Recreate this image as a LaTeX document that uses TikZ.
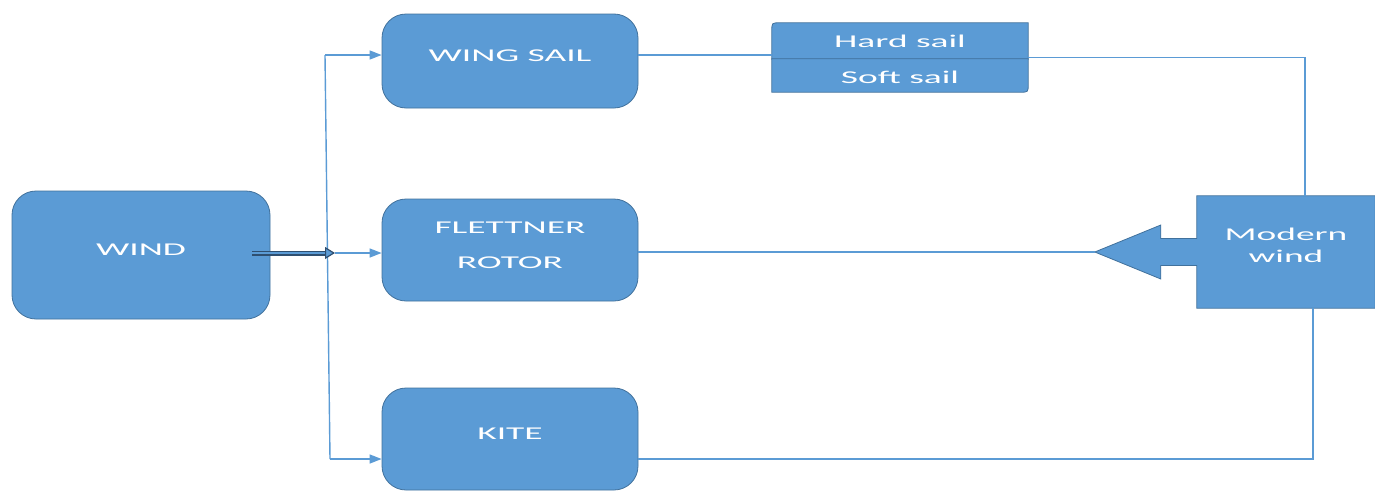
\documentclass[tikz,border=0pt]{standalone}
\usepackage{fontspec}
\newfontfamily\boxfont[FakeStretch=2.08]{Carlito}
\usetikzlibrary{arrows.meta,backgrounds,calc}
\definecolor{boxblue}{HTML}{5B9BD5}
\definecolor{edgeblue}{HTML}{41719C}
\definecolor{linkblue}{HTML}{5B9BD5}
\definecolor{navyline}{HTML}{2F4F70}
% place text so that its (last) baseline sits #1 below the node centre
\newcommand\onbase[2]{\raisebox{-#1}[0pt][0pt]{#2}}
% two centred lines: width, line distance, drop of last baseline, lines
\newcommand\twolines[5]{\raisebox{-#3}[0pt][0pt]{\parbox[b]{#1}{\centering\baselineskip=#2 #4\\#5}}}
\begin{document}
\begin{tikzpicture}[x=1pt,y=-1pt,
  every node/.style={font=\boxfont\fontsize{18}{22}\selectfont, text=white},
  block/.style={rectangle, rounded corners=24pt, fill=boxblue, draw=edgeblue,
    line width=0.8pt, inner sep=0pt},
  plain/.style={rectangle, inner sep=0pt},
  shapefill/.style={fill=boxblue, draw=edgeblue, line width=0.8pt},
  link/.style={draw=linkblue, line width=1.4pt},
  feed/.style={link, -{Triangle[length=12pt,width=9pt]}},
  windarrow/.style={draw=navyline, line width=1.2pt, double=boxblue,
    double distance=2.6pt, -{Triangle[length=10pt,width=12pt,fill=boxblue]}},
]
\useasboundingbox (0,0) rectangle (1375,490);

% main blocks
\node[block, minimum width=258pt, minimum height=128pt] (wind) at (141,255) {\onbase{0pt}{WIND}};
\node[block, minimum width=256pt, minimum height=94pt] (ws) at (510,61) {\onbase{0pt}{WING SAIL}};
\node[block, minimum width=256pt, minimum height=102pt] (fr) at (510,250) {\twolines{220pt}{35pt}{18pt}{FLETTNER}{ROTOR}};
\node[block, minimum width=256pt, minimum height=102pt] (kite) at (510,439) {\onbase{0pt}{KITE}};

% sail types
\node[plain, minimum width=256pt, minimum height=36pt] (hs) at (900,41) {\onbase{6pt}{Hard sail}};
\node[plain, minimum width=256pt, minimum height=33pt] (ss) at (900,75.5) {\onbase{7.5pt}{Soft sail}};

% modern wind block with its arrow
\node[plain, minimum width=178pt, minimum height=112pt] (mw) at (1286,252) {\twolines{150pt}{22pt}{10pt}{Modern}{wind}};
\coordinate (mwtip) at ($(mw.west)+(-102,0)$);

\begin{scope}[on background layer]
  \path[shapefill] (hs.south west) -- ($(hs.north west)+(0,8)$)
    .. controls (hs.north west) .. ($(hs.north west)+(8,0)$)
    -- (hs.north east) -- (hs.south east) -- cycle;
  \path[shapefill] (ss.north west) -- (ss.north east) -- ($(ss.south east)+(0,-8)$)
    .. controls (ss.south east) .. ($(ss.south east)+(-8,0)$)
    -- (ss.south west) -- cycle;
  \path[shapefill] (mw.north west) -- (mw.north east) -- (mw.south east)
    -- (mw.south west) -- ($(mw.west)+(0,13.5)$) -- ($(mw.west)+(-36,13.5)$)
    -- ($(mw.west)+(-36,27)$) -- (mwtip) -- ($(mw.west)+(-36,-27)$)
    -- ($(mw.west)+(-36,-13.5)$) -- ($(mw.west)+(0,-13.5)$) -- cycle;
\end{scope}

% distribution bus
\coordinate (bt) at (325,55);
\coordinate (bm) at (335,253);
\coordinate (bb) at (330,459);
\draw[link] (bt) -- (bb);
\draw[feed] (bt) -- (bt -| ws.west);
\draw[feed] (bm) -- (bm -| fr.west);
\draw[feed] (bb) -- (bb -| kite.west);
\draw[windarrow] ($(wind.east |- bm)+(-18,0)$) -- (bm);

% links towards the modern wind block
\draw[link] ([yshift=6pt]ws.east) -- ([yshift=6pt]ws.east -| hs.west);
\draw[link] ([yshift=2pt]hs.south east) -| ([xshift=19pt]mw.north);
\draw[link] (fr.east |- mwtip) -- (mwtip);
\draw[link] ([yshift=-20pt]kite.east) -| ([xshift=27pt]mw.south);
\end{tikzpicture}
\end{document}
